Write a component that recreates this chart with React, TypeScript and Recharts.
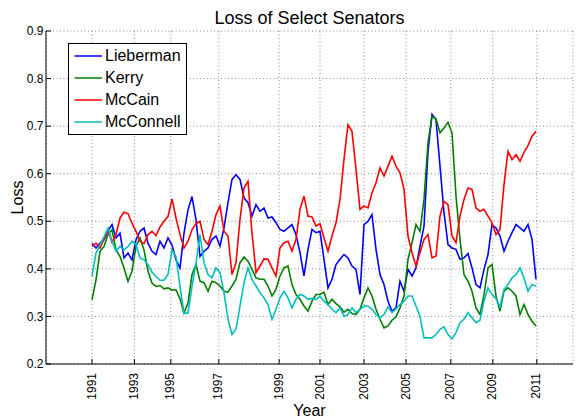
import React from "react";
import { LineChart, Line, XAxis, YAxis, CartesianGrid, Legend } from "recharts";

// x is a running sample index along the session timeline; years are marked at their start
const yearLabels = ["1991", "1993", "1995", "1997", "1999", "2001", "2003", "2005", "2007", "2009", "2011"];
const yearTickPos = [0, 10.6, 19.7, 31.7, 46.8, 57, 68, 78.5, 89.7, 100.2, 111.2];
const lossTicks = [0.2, 0.3, 0.4, 0.5, 0.6, 0.7, 0.8, 0.9];
const senatorOrder = ["Lieberman", "Kerry", "McCain", "McConnell"];

const lieberman = [
  0.454, 0.444, 0.454, 0.461, 0.48, 0.493, 0.465, 0.475, 0.423, 0.433, 0.419, 0.461, 0.479, 0.486,
  0.454, 0.437, 0.43, 0.458, 0.444, 0.465, 0.45, 0.419, 0.402, 0.475, 0.524, 0.552, 0.503, 0.426,
  0.437, 0.444, 0.462, 0.469, 0.448, 0.486, 0.539, 0.588, 0.598, 0.588, 0.549, 0.539, 0.511, 0.535,
  0.521, 0.528, 0.507, 0.509, 0.497, 0.483, 0.479, 0.486, 0.493, 0.472, 0.434, 0.385, 0.441,
  0.483, 0.476, 0.479, 0.42, 0.36, 0.378, 0.409, 0.42, 0.43, 0.423, 0.406, 0.399, 0.346, 0.493,
  0.5, 0.514, 0.441, 0.388, 0.367, 0.332, 0.311, 0.318, 0.374, 0.353, 0.399, 0.385, 0.402, 0.448, 0.49,
  0.647, 0.725, 0.714, 0.616, 0.518, 0.451, 0.444, 0.441, 0.42, 0.423, 0.432, 0.402, 0.367, 0.36,
  0.399, 0.43, 0.493, 0.486, 0.469, 0.437, 0.458, 0.476, 0.493, 0.486, 0.479, 0.493, 0.462, 0.378,
];

const kerry = [
  0.335, 0.377, 0.437, 0.447, 0.472, 0.482, 0.44, 0.426, 0.402, 0.374, 0.395, 0.447, 0.465, 0.44,
  0.395, 0.37, 0.363, 0.365, 0.358, 0.36, 0.355, 0.356, 0.337, 0.307, 0.328, 0.388, 0.409, 0.374,
  0.371, 0.353, 0.374, 0.371, 0.364, 0.353, 0.351, 0.364, 0.378, 0.413, 0.425, 0.416, 0.399, 0.381,
  0.378, 0.378, 0.364, 0.343, 0.357, 0.385, 0.402, 0.406, 0.367, 0.346, 0.336, 0.322, 0.311,
  0.332, 0.346, 0.346, 0.351, 0.325, 0.336, 0.327, 0.32, 0.309, 0.315, 0.306, 0.304, 0.315, 0.339,
  0.36, 0.343, 0.315, 0.294, 0.276, 0.28, 0.292, 0.299, 0.318, 0.343, 0.42, 0.455, 0.493, 0.479, 0.546,
  0.665, 0.721, 0.715, 0.686, 0.696, 0.708, 0.686, 0.553, 0.462, 0.388, 0.374, 0.353, 0.318, 0.304,
  0.346, 0.402, 0.409, 0.343, 0.311, 0.353, 0.36, 0.353, 0.343, 0.304, 0.325, 0.304, 0.29, 0.28,
];

const mccain = [
  0.447, 0.454, 0.444, 0.463, 0.482, 0.456, 0.472, 0.507, 0.519, 0.516, 0.496, 0.479, 0.458, 0.453,
  0.472, 0.479, 0.47, 0.488, 0.5, 0.51, 0.547, 0.507, 0.472, 0.444, 0.458, 0.482, 0.495, 0.5,
  0.462, 0.451, 0.479, 0.514, 0.532, 0.479, 0.469, 0.388, 0.413, 0.504, 0.57, 0.584, 0.476, 0.392,
  0.406, 0.421, 0.42, 0.402, 0.385, 0.444, 0.455, 0.458, 0.437, 0.462, 0.525, 0.553, 0.511,
  0.509, 0.49, 0.495, 0.465, 0.437, 0.469, 0.497, 0.546, 0.63, 0.703, 0.689, 0.609, 0.525, 0.532,
  0.528, 0.56, 0.581, 0.612, 0.595, 0.616, 0.637, 0.616, 0.602, 0.567, 0.469, 0.434, 0.406, 0.434, 0.462,
  0.472, 0.423, 0.427, 0.511, 0.542, 0.535, 0.469, 0.455, 0.511, 0.546, 0.57, 0.567, 0.528, 0.521,
  0.525, 0.511, 0.497, 0.472, 0.483, 0.577, 0.647, 0.63, 0.64, 0.626, 0.645, 0.659, 0.679, 0.689,
];

const mcconnell = [
  0.384, 0.433, 0.451, 0.467, 0.486, 0.458, 0.437, 0.447, 0.44, 0.447, 0.458, 0.451, 0.423, 0.419,
  0.409, 0.393, 0.384, 0.376, 0.376, 0.388, 0.44, 0.426, 0.363, 0.307, 0.307, 0.363, 0.412, 0.472,
  0.413, 0.388, 0.381, 0.402, 0.392, 0.35, 0.294, 0.262, 0.273, 0.322, 0.371, 0.402, 0.378, 0.364,
  0.35, 0.339, 0.325, 0.294, 0.315, 0.339, 0.353, 0.339, 0.318, 0.336, 0.346, 0.343, 0.336,
  0.338, 0.336, 0.342, 0.332, 0.325, 0.315, 0.308, 0.318, 0.3, 0.304, 0.318, 0.308, 0.315, 0.322,
  0.322, 0.315, 0.304, 0.297, 0.304, 0.32, 0.308, 0.316, 0.325, 0.332, 0.343, 0.343, 0.322, 0.3, 0.255,
  0.255, 0.255, 0.262, 0.273, 0.278, 0.262, 0.253, 0.266, 0.287, 0.294, 0.308, 0.297, 0.287, 0.292,
  0.332, 0.36, 0.346, 0.337, 0.32, 0.357, 0.367, 0.381, 0.388, 0.402, 0.381, 0.353, 0.367, 0.364,
];

const data = lieberman.map((v, i) => ({
  i,
  lieberman: v,
  kerry: kerry[i],
  mccain: mccain[i],
  mcconnell: mcconnell[i],
}));

const FONT = "'Liberation Sans', Arial, Helvetica, sans-serif";

const yearFor = (pos: number) => {
  const k = yearTickPos.indexOf(pos);
  return k >= 0 ? yearLabels[k] : "";
};

const XTick = (props: any) => {
  const { x, y, payload } = props;
  const bx = x + 3.5;
  const by = y + 9;
  return (
    <g>
      <line x1={x} y1={y} x2={x} y2={y - 5} stroke="#000" />
      <text
        x={bx}
        y={by}
        transform={`rotate(-90 ${bx} ${by})`}
        textAnchor="end"
        fontSize={12}
        fontFamily={FONT}
        fill="#000"
      >
        {yearFor(payload.value)}
      </text>
    </g>
  );
};

const YTick = (props: any) => {
  const { x, y, payload } = props;
  return (
    <g>
      <line x1={x} y1={y} x2={x + 5} y2={y} stroke="#000" />
      <text x={x - 2.5} y={y + 4.2} textAnchor="end" fontSize={12} fontFamily={FONT} fill="#000">
        {payload.value.toFixed(1)}
      </text>
    </g>
  );
};

const renderLegend = (props: any) => {
  const items = [...(props.payload || [])].sort(
    (a: any, b: any) => senatorOrder.indexOf(a.value) - senatorOrder.indexOf(b.value)
  );
  return (
    <div
      style={{
        border: "1px solid #000",
        background: "#fff",
        width: 117,
        padding: "1px 0",
        fontFamily: FONT,
      }}
    >
      {items.map((p: any) => (
        <div key={p.value} style={{ height: 22, display: "flex", alignItems: "center" }}>
          <svg width={33} height={22} style={{ display: "block" }}>
            <line x1={5.5} y1={11} x2={33} y2={11} stroke={p.color} strokeWidth={1.5} />
          </svg>
          <span style={{ marginLeft: 3, fontSize: 16, lineHeight: "22px", color: "#000" }}>{p.value}</span>
        </div>
      ))}
    </div>
  );
};

export default function App() {
  return (
    <div style={{ position: "absolute", left: 0, top: 0, width: 576, height: 418, background: "#fff", fontFamily: FONT }}>
      <LineChart width={576} height={418} data={data} margin={{ top: 31, right: 3, bottom: 0, left: 0 }}>
        <CartesianGrid xAxisId="b" yAxisId="left" stroke="#8a8a8a" strokeDasharray="1 2.5" />
        <XAxis
          xAxisId="b"
          dataKey="i"
          type="number"
          domain={[-11.5, 120.25]}
          allowDataOverflow
          ticks={yearTickPos}
          interval={0}
          height={54}
          tickSize={0}
          tickMargin={0}
          tickLine={false}
          axisLine={{ stroke: "#000" }}
          tick={<XTick />}
        />
        <XAxis
          xAxisId="t"
          orientation="top"
          dataKey="i"
          type="number"
          domain={[-11.5, 120.25]}
          allowDataOverflow
          ticks={yearTickPos}
          interval={0}
          height={0}
          mirror
          tickSize={5}
          tick={false}
          tickLine={{ stroke: "#000" }}
          axisLine={{ stroke: "#000" }}
        />
        <YAxis
          yAxisId="left"
          type="number"
          domain={[0.2, 0.9]}
          ticks={lossTicks}
          interval={0}
          width={46}
          tickSize={0}
          tickMargin={0}
          tickLine={false}
          axisLine={{ stroke: "#000" }}
          tick={<YTick />}
        />
        <YAxis
          yAxisId="right"
          orientation="right"
          type="number"
          domain={[0.2, 0.9]}
          ticks={lossTicks}
          interval={0}
          width={0}
          mirror
          tickSize={5}
          tick={false}
          tickLine={{ stroke: "#000" }}
          axisLine={{ stroke: "#000" }}
        />
        <Legend
          layout="vertical"
          align="center"
          verticalAlign="middle"
          content={renderLegend}
          wrapperStyle={{ left: 68, top: 43, width: 120, height: 92 }}
        />
        <Line xAxisId="b" yAxisId="left" type="linear" dataKey="lieberman" name="Lieberman" stroke="#0000ff" strokeWidth={1.6} dot={false} isAnimationActive={false} />
        <Line xAxisId="b" yAxisId="left" type="linear" dataKey="kerry" name="Kerry" stroke="#008000" strokeWidth={1.6} dot={false} isAnimationActive={false} />
        <Line xAxisId="b" yAxisId="left" type="linear" dataKey="mccain" name="McCain" stroke="#ff0000" strokeWidth={1.6} dot={false} isAnimationActive={false} />
        <Line xAxisId="b" yAxisId="left" type="linear" dataKey="mcconnell" name="McConnell" stroke="#00bfbf" strokeWidth={1.6} dot={false} isAnimationActive={false} />
      </LineChart>
      <svg width={576} height={418} style={{ position: "absolute", left: 0, top: 0, pointerEvents: "none" }}>
        <text x={309.5} y={24} textAnchor="middle" fontSize={18} fontFamily={FONT} fill="#000">
          Loss of Select Senators
        </text>
        <text x={309.5} y={416} textAnchor="middle" fontSize={16} fontFamily={FONT} fill="#000">
          Year
        </text>
        <text x={23} y={197.5} transform="rotate(-90 23 197.5)" textAnchor="middle" fontSize={16} fontFamily={FONT} fill="#000">
          Loss
        </text>
      </svg>
    </div>
  );
}
